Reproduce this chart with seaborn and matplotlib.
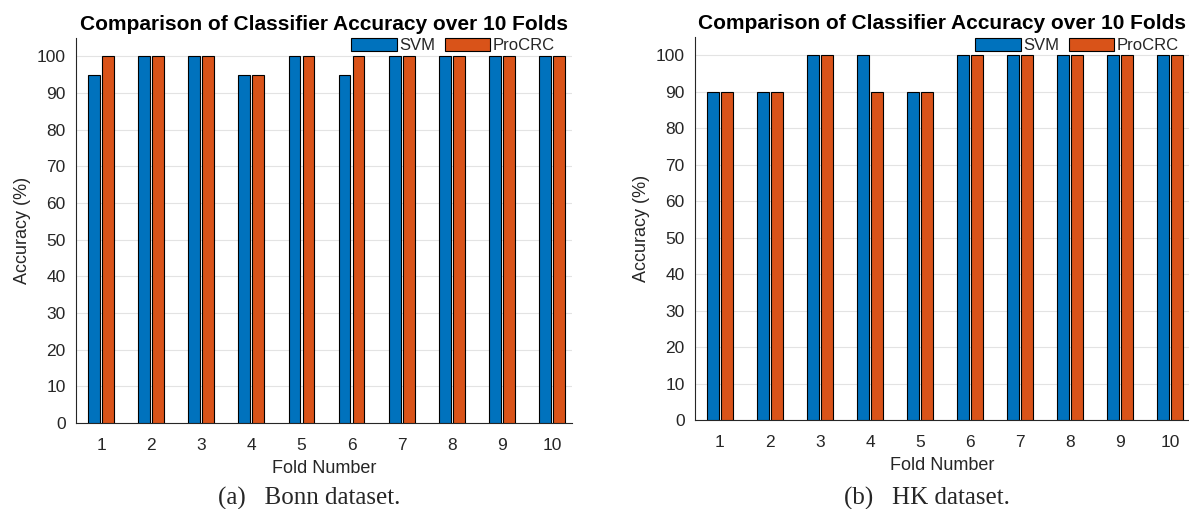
import matplotlib
matplotlib.use("Agg")
import matplotlib.pyplot as plt
import seaborn as sns
import pandas as pd

folds = [str(i) for i in range(1, 11)]
series = ["SVM", "ProCRC"]
bonn_svm = [95, 100, 100, 95, 100, 95, 100, 100, 100, 100]
bonn_procrc = [100, 100, 100, 95, 100, 100, 100, 100, 100, 100]
hk_svm = [90, 90, 100, 100, 90, 100, 100, 100, 100, 100]
hk_procrc = [90, 90, 100, 90, 90, 100, 100, 100, 100, 100]
yticks = list(range(0, 101, 10))
title = "Comparison of Classifier Accuracy over 10 Folds"
captions = ["(a)   Bonn dataset.", "(b)   HK dataset."]

colors = ["#0072BD", "#D95319"]
sns.set_style("white")
plt.rcParams["font.family"] = ["Liberation Sans", "DejaVu Sans"]
text_col = "#262626"

W, H = 1189, 509


def make_df(a, b):
    return pd.DataFrame({
        "Fold": folds * 2,
        "Accuracy": a + b,
        "Classifier": [series[0]] * len(folds) + [series[1]] * len(folds),
    })


fig = plt.figure(figsize=(W / 100, H / 100), dpi=100)
# axes boxes in pixels: (left, top, right, bottom)
boxes = [(76, 38, 572, 423), (695, 37, 1189, 420)]
xlims = [(-0.5, 9.4), (-0.5, 9.38)]
legend_anchor = [(555, 38), (1179, 38)]
data = [(bonn_svm, bonn_procrc), (hk_svm, hk_procrc)]

axes = []
for (l, t, r, b), xl, (lx, ly), (a, bb) in zip(boxes, xlims, legend_anchor, data):
    ax = fig.add_axes([l / W, 1 - b / H, (r - l) / W, (b - t) / H])
    axes.append(ax)
    df = make_df(a, bb)
    sns.barplot(data=df, x="Fold", y="Accuracy", hue="Classifier",
                order=folds, hue_order=series, palette=colors,
                width=0.56, gap=0.16, edgecolor="black", linewidth=0.8,
                saturation=1, ax=ax, zorder=3)
    ax.set_ylim(0, 105)
    ax.set_xlim(*xl)
    ax.set_yticks(yticks)
    ax.yaxis.grid(True, color="#e3e3e3", linewidth=0.8, zorder=0)
    ax.set_axisbelow(True)
    for s in ["top", "right"]:
        ax.spines[s].set_visible(False)
    for s in ["left", "bottom"]:
        ax.spines[s].set_color("#262626")
        ax.spines[s].set_linewidth(0.8)
    ax.tick_params(axis="both", which="major", direction="out", length=4,
                   width=0.8, colors=text_col, labelsize=12.5, labelcolor=text_col)
    ax.tick_params(axis="x", pad=7)
    ax.set_xlabel("Fold Number", fontsize=13, color=text_col, labelpad=5)
    ax.set_ylabel("Accuracy (%)", fontsize=13, color=text_col, labelpad=4)
    ax.set_title(title, fontsize=15, fontweight="bold", color="black", pad=6)
    ax.legend(loc="upper right", bbox_to_anchor=(lx / W, 1 - ly / H),
              bbox_transform=fig.transFigure, ncol=2,
              frameon=False, fontsize=12, handlelength=2.75, handleheight=0.85,
              handletextpad=0.15, columnspacing=0.55, borderaxespad=0.0,
              borderpad=0.0, labelcolor=text_col)

fig.text(309 / W, 1 - 498 / H, captions[0], ha="center", va="center",
         fontsize=18, family=["Liberation Serif", "DejaVu Serif"])
fig.text(927 / W, 1 - 498 / H, captions[1], ha="center", va="center",
         fontsize=18, family=["Liberation Serif", "DejaVu Serif"])

fig.savefig("out.png", dpi=100)
